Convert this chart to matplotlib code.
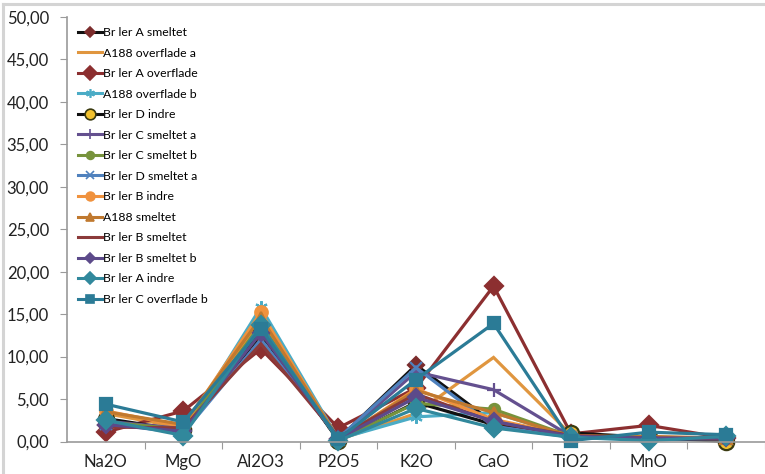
import matplotlib
matplotlib.use("Agg")
import matplotlib.pyplot as plt
from matplotlib.lines import Line2D

plt.rcParams['font.family'] = ['Lato', 'DejaVu Sans']

# Oxide categories (last column has no label)
categories = ["Na2O", "MgO", "Al2O3", "P2O5", "K2O", "CaO", "TiO2", "MnO", ""]

# Weight-% per sample
br_A_smeltet      = [2.0, 1.5, 12.5, 0.3, 9.0, 2.2, 0.7, 0.3, 0.3]
a188_overflade_a  = [3.3, 1.6, 14.2, 0.2, 3.3, 9.9, 0.8, 0.5, 0.3]
br_A_overflade    = [1.1, 3.6, 10.9, 1.6, 6.3, 18.3, 0.9, 1.9, 0.4]
a188_overflade_b  = [2.2, 1.2, 15.8, 0.3, 2.9, 3.4, 0.6, 0.4, 0.3]
br_D_indre        = [2.7, 1.3, 13.0, 0.1, 4.6, 2.0, 1.0, 0.5, 0.0]
br_C_smeltet_a    = [2.4, 1.5, 13.5, 0.2, 8.2, 6.1, 0.6, 0.4, 0.4]
br_C_smeltet_b    = [2.3, 1.4, 13.8, 0.2, 4.5, 3.8, 0.6, 0.4, 0.4]
br_D_smeltet_a    = [2.1, 1.0, 12.0, 0.4, 8.7, 1.8, 0.5, 0.3, 0.3]
br_B_indre        = [3.6, 1.8, 15.2, 0.2, 6.2, 2.6, 0.7, 0.5, 0.4]
a188_smeltet      = [3.5, 2.0, 14.6, 0.3, 6.0, 3.4, 0.6, 0.6, 0.4]
br_B_smeltet      = [1.7, 1.6, 11.5, 0.5, 5.6, 2.3, 0.7, 0.4, 0.3]
br_B_smeltet_b    = [2.0, 1.2, 12.8, 0.3, 5.2, 2.4, 0.6, 0.4, 0.4]
br_A_indre        = [2.5, 0.7, 13.7, 0.1, 3.9, 1.6, 0.5, 0.1, 0.6]
br_C_overflade_b  = [4.4, 2.3, 13.3, 0.3, 7.3, 13.9, 0.1, 1.1, 0.8]

series_names = ["Br ler A smeltet", "A188 overflade a", "Br ler A overflade",
                "A188 overflade b", "Br ler D indre", "Br ler C smeltet a",
                "Br ler C smeltet b", "Br ler D smeltet a", "Br ler B indre",
                "A188 smeltet", "Br ler B smeltet", "Br ler B smeltet b",
                "Br ler A indre", "Br ler C overflade b"]
series_values = [br_A_smeltet, a188_overflade_a, br_A_overflade, a188_overflade_b,
                 br_D_indre, br_C_smeltet_a, br_C_smeltet_b, br_D_smeltet_a,
                 br_B_indre, a188_smeltet, br_B_smeltet, br_B_smeltet_b,
                 br_A_indre, br_C_overflade_b]

# line colour, marker, marker face, marker edge, marker size
styles = [
    ("#111111", "D", "#7b2c2c", "#7b2c2c", 8),
    ("#e0963f", "None", "#e0963f", "#e0963f", 0),
    ("#8c2f30", "D", "#8c2f30", "#8c2f30", 9.5),
    ("#4bacc6", (6, 2, 0), "#4bacc6", "#4bacc6", 9),
    ("#111111", "o", "#f2c12e", "#3a3a10", 11),
    ("#64508f", "+", "#64508f", "#64508f", 10),
    ("#77933c", "o", "#77933c", "#77933c", 8),
    ("#4f81bd", "x", "#4f81bd", "#4f81bd", 8),
    ("#f0923e", "o", "#f0923e", "#f0923e", 9),
    ("#c0792f", "^", "#c0792f", "#c0792f", 8),
    ("#8b3a3a", "None", "#8b3a3a", "#8b3a3a", 0),
    ("#5c4a8a", "D", "#5c4a8a", "#5c4a8a", 8),
    ("#31889c", "D", "#31889c", "#31889c", 9),
    ("#2b7b96", "s", "#2b7b96", "#2b7b96", 9),
]

W, H = 765, 474
fig = plt.figure(figsize=(W / 100, H / 100), dpi=100)
x0 = 67 / W
y0 = (H - 441.5) / H
y1 = (H - 17) / H
ax = fig.add_axes([x0, y0, 1 - x0, y1 - y0])

xs = list(range(len(categories)))
handles = []
for name, vals, (lc, mk, mfc, mec, ms) in zip(series_names, series_values, styles):
    ax.plot(xs, vals, color=lc, lw=2.3, marker=mk, markersize=ms,
            markerfacecolor=mfc, markeredgecolor=mec, markeredgewidth=1.6,
            solid_joinstyle="miter", clip_on=False)
    handles.append(Line2D([], [], color=lc, lw=2.2, marker=mk,
                          markersize=ms * 0.7 if ms else 0,
                          markerfacecolor=mfc, markeredgecolor=mec,
                          markeredgewidth=1.2, label=name))

ax.set_ylim(0, 50)
ax.set_xlim(-0.5, (W - 67) / 79.0 - 0.5)

axis_gray = "#9a9a9a"
for s in ("top", "right"):
    ax.spines[s].set_visible(False)
for s in ("left", "bottom"):
    ax.spines[s].set_color(axis_gray)
    ax.spines[s].set_linewidth(1.2)

ax.set_yticks(range(0, 51, 5))
ax.set_yticklabels([f"{v},00" for v in range(0, 51, 5)])
ax.tick_params(axis="y", direction="out", length=5, color=axis_gray,
               labelsize=12, pad=8, labelcolor="#222222")

# category boundaries carry the tick marks, labels sit in between
ax.set_xticks([i - 0.5 for i in range(1, len(categories) + 1)])
ax.set_xticklabels([])
ax.tick_params(axis="x", which="major", direction="out", length=5, color=axis_gray)
ax.set_xticks(xs, minor=True)
ax.set_xticklabels(categories, minor=True)
ax.tick_params(axis="x", which="minor", length=0, labelsize=12, pad=9,
               labelcolor="#222222")

leg = fig.legend(handles=handles, loc="upper left",
                 bbox_to_anchor=(78 / W, 1 - 27 / H),
                 frameon=False, fontsize=8.8, handlelength=2.0,
                 handletextpad=0.05, labelspacing=0.78, borderpad=0,
                 borderaxespad=0)

# outer chart border
fig.add_artist(Line2D([3 / W, 3 / W], [0, 1 - 4 / H], color="#d4d4d4", lw=2.2))
fig.add_artist(Line2D([3 / W, 1], [1 - 4 / H, 1 - 4 / H], color="#d4d4d4", lw=2.2))

fig.savefig("out.png", dpi=100)
